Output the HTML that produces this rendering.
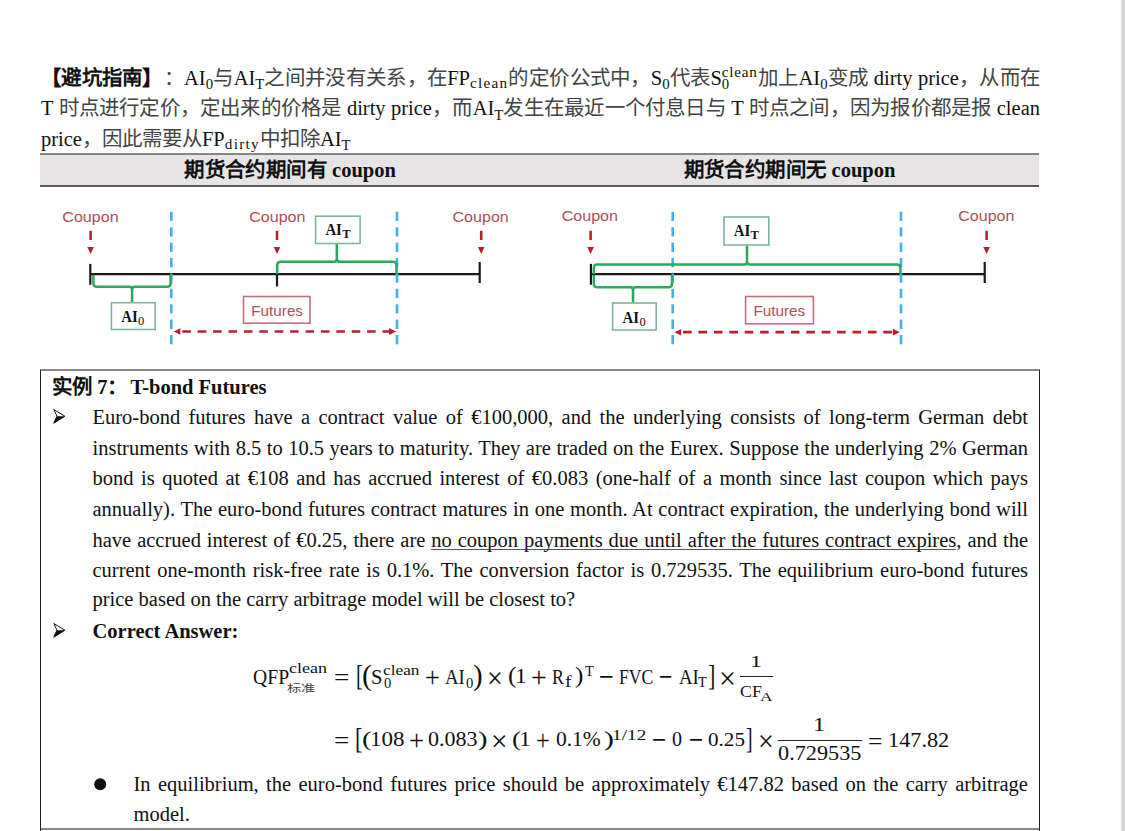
<!DOCTYPE html>
<html lang="zh-CN"><head>
<meta charset="utf-8">
<style>
html,body{margin:0;padding:0;background:#fff;}
body{width:1125px;height:831px;overflow:hidden;position:relative;font-family:"Liberation Serif",serif;color:#111;}
.ln{position:absolute;white-space:nowrap;line-height:30px;height:30px;}
.j{text-align:justify;text-align-last:justify;white-space:nowrap;}
.b{font-weight:bold;}
.hs{font-family:"Liberation Sans",sans-serif;font-weight:bold;}
.cj{color:#444;font-family:"Liberation Sans",sans-serif;}
.sb{font-size:74%;letter-spacing:.085em;position:relative;top:.22em;}
.sd{font-size:72%;position:relative;top:.3em;}
.sp{font-size:74%;letter-spacing:.05em;position:relative;top:-.53em;}
.rel{position:relative;}
.abs0{position:absolute;left:0;top:.24em;font-size:82%;}
.t{position:absolute;white-space:nowrap;line-height:1;transform-origin:0 0;}
#edge{position:absolute;left:1120px;top:0;width:5px;height:831px;background:linear-gradient(to right,#fff 0,#ececec 25%,#d3d3d3 55%,#cfcfcf 100%);}
#hdr{position:absolute;left:40px;top:153px;width:999px;height:29.5px;background:#e6e4e5;border-top:2px solid #858585;border-bottom:2px solid #5a5a5a;}
#box{position:absolute;left:40px;top:369px;width:998px;height:457px;border-left:1px solid #222;border-right:1px solid #222;border-top:2px solid #8a8a8a;border-bottom:2px solid #8a8a8a;}
.cp{font-family:"Liberation Sans",sans-serif;font-size:15.5px;fill:#ad3d4a;}
u{text-decoration-thickness:1.3px;text-underline-offset:1.5px;text-decoration-color:#555;text-decoration-skip-ink:none;}
.fzo>span{position:absolute;white-space:nowrap;line-height:1;}
</style>
</head>
<body>
<div id="edge"></div>
<div class="fzo"><span style="left: 41px; top: 67.98px; font-size: 20.5px; font-family: &quot;Liberation Sans&quot;, sans-serif; font-weight: 700; color: rgb(17, 17, 17);">【</span><span style="left: 61.28px; top: 67.98px; font-size: 20.5px; font-family: &quot;Liberation Sans&quot;, sans-serif; font-weight: 700; color: rgb(17, 17, 17);">避</span><span style="left: 81.58px; top: 67.98px; font-size: 20.5px; font-family: &quot;Liberation Sans&quot;, sans-serif; font-weight: 700; color: rgb(17, 17, 17);">坑</span><span style="left: 101.86px; top: 67.98px; font-size: 20.5px; font-family: &quot;Liberation Sans&quot;, sans-serif; font-weight: 700; color: rgb(17, 17, 17);">指</span><span style="left: 122.16px; top: 67.98px; font-size: 20.5px; font-family: &quot;Liberation Sans&quot;, sans-serif; font-weight: 700; color: rgb(17, 17, 17);">南</span><span style="left: 142.44px; top: 67.98px; font-size: 20.5px; font-family: &quot;Liberation Sans&quot;, sans-serif; font-weight: 700; color: rgb(17, 17, 17);">】</span><span style="left: 163.75px; top: 67.98px; font-size: 20.5px; font-family: &quot;Liberation Sans&quot;, sans-serif; font-weight: 400; color: rgb(68, 68, 68);">：</span><span style="left: 184.05px; top: 67.97px; font-size: 20.5px; font-family: &quot;Liberation Serif&quot;, serif; font-weight: 400; color: rgb(17, 17, 17);">AI</span><span style="left: 205.69px; top: 77.41px; font-size: 14.76px; font-family: &quot;Liberation Serif&quot;, serif; font-weight: 400; color: rgb(17, 17, 17);">0</span><span style="left: 213.06px; top: 67.98px; font-size: 20.5px; font-family: &quot;Liberation Sans&quot;, sans-serif; font-weight: 400; color: rgb(68, 68, 68);">与</span><span style="left: 233.66px; top: 67.97px; font-size: 20.5px; font-family: &quot;Liberation Serif&quot;, serif; font-weight: 400; color: rgb(17, 17, 17);">AI</span><span style="left: 255.3px; top: 77.41px; font-size: 14.76px; font-family: &quot;Liberation Serif&quot;, serif; font-weight: 400; color: rgb(17, 17, 17);">T</span><span style="left: 264.31px; top: 67.98px; font-size: 20.5px; font-family: &quot;Liberation Sans&quot;, sans-serif; font-weight: 400; color: rgb(68, 68, 68);">之</span><span style="left: 284.89px; top: 67.98px; font-size: 20.5px; font-family: &quot;Liberation Sans&quot;, sans-serif; font-weight: 400; color: rgb(68, 68, 68);">间</span><span style="left: 305.17px; top: 67.98px; font-size: 20.5px; font-family: &quot;Liberation Sans&quot;, sans-serif; font-weight: 400; color: rgb(68, 68, 68);">并</span><span style="left: 325.47px; top: 67.98px; font-size: 20.5px; font-family: &quot;Liberation Sans&quot;, sans-serif; font-weight: 400; color: rgb(68, 68, 68);">没</span><span style="left: 345.75px; top: 67.98px; font-size: 20.5px; font-family: &quot;Liberation Sans&quot;, sans-serif; font-weight: 400; color: rgb(68, 68, 68);">有</span><span style="left: 366.05px; top: 67.98px; font-size: 20.5px; font-family: &quot;Liberation Sans&quot;, sans-serif; font-weight: 400; color: rgb(68, 68, 68);">关</span><span style="left: 386.33px; top: 67.98px; font-size: 20.5px; font-family: &quot;Liberation Sans&quot;, sans-serif; font-weight: 400; color: rgb(68, 68, 68);">系</span><span style="left: 406.63px; top: 67.98px; font-size: 20.5px; font-family: &quot;Liberation Sans&quot;, sans-serif; font-weight: 400; color: rgb(68, 68, 68);">，</span><span style="left: 426.91px; top: 67.98px; font-size: 20.5px; font-family: &quot;Liberation Sans&quot;, sans-serif; font-weight: 400; color: rgb(68, 68, 68);">在</span><span style="left: 447.22px; top: 67.97px; font-size: 20.5px; font-family: &quot;Liberation Serif&quot;, serif; font-weight: 400; color: rgb(17, 17, 17);">FP</span><span style="left: 470.03px; top: 75.31px; font-size: 15.17px; font-family: &quot;Liberation Serif&quot;, serif; font-weight: 400; color: rgb(17, 17, 17); letter-spacing: 1.28945px;">clean</span><span style="left: 508.45px; top: 67.98px; font-size: 20.5px; font-family: &quot;Liberation Sans&quot;, sans-serif; font-weight: 400; color: rgb(68, 68, 68);">的</span><span style="left: 529.03px; top: 67.98px; font-size: 20.5px; font-family: &quot;Liberation Sans&quot;, sans-serif; font-weight: 400; color: rgb(68, 68, 68);">定</span><span style="left: 549.31px; top: 67.98px; font-size: 20.5px; font-family: &quot;Liberation Sans&quot;, sans-serif; font-weight: 400; color: rgb(68, 68, 68);">价</span><span style="left: 569.61px; top: 67.98px; font-size: 20.5px; font-family: &quot;Liberation Sans&quot;, sans-serif; font-weight: 400; color: rgb(68, 68, 68);">公</span><span style="left: 589.89px; top: 67.98px; font-size: 20.5px; font-family: &quot;Liberation Sans&quot;, sans-serif; font-weight: 400; color: rgb(68, 68, 68);">式</span><span style="left: 610.19px; top: 67.98px; font-size: 20.5px; font-family: &quot;Liberation Sans&quot;, sans-serif; font-weight: 400; color: rgb(68, 68, 68);">中</span><span style="left: 630.47px; top: 67.98px; font-size: 20.5px; font-family: &quot;Liberation Sans&quot;, sans-serif; font-weight: 400; color: rgb(68, 68, 68);">，</span><span style="left: 650.78px; top: 67.97px; font-size: 20.5px; font-family: &quot;Liberation Serif&quot;, serif; font-weight: 400; color: rgb(17, 17, 17);">S</span><span style="left: 662.19px; top: 77.41px; font-size: 14.76px; font-family: &quot;Liberation Serif&quot;, serif; font-weight: 400; color: rgb(17, 17, 17);">0</span><span style="left: 669.56px; top: 67.98px; font-size: 20.5px; font-family: &quot;Liberation Sans&quot;, sans-serif; font-weight: 400; color: rgb(68, 68, 68);">代</span><span style="left: 690.14px; top: 67.98px; font-size: 20.5px; font-family: &quot;Liberation Sans&quot;, sans-serif; font-weight: 400; color: rgb(68, 68, 68);">表</span><span style="left: 710.44px; top: 67.97px; font-size: 20.5px; font-family: &quot;Liberation Serif&quot;, serif; font-weight: 400; color: rgb(17, 17, 17);">S</span><span style="left: 721.84px; top: 77.41px; font-size: 14.76px; font-family: &quot;Liberation Serif&quot;, serif; font-weight: 400; color: rgb(17, 17, 17);">0</span><span style="left: 721.84px; top: 63.95px; font-size: 15.17px; font-family: &quot;Liberation Serif&quot;, serif; font-weight: 400; color: rgb(17, 17, 17); letter-spacing: 0.7585px;">clean</span><span style="left: 757.61px; top: 67.98px; font-size: 20.5px; font-family: &quot;Liberation Sans&quot;, sans-serif; font-weight: 400; color: rgb(68, 68, 68);">加</span><span style="left: 778.19px; top: 67.98px; font-size: 20.5px; font-family: &quot;Liberation Sans&quot;, sans-serif; font-weight: 400; color: rgb(68, 68, 68);">上</span><span style="left: 798.48px; top: 67.97px; font-size: 20.5px; font-family: &quot;Liberation Serif&quot;, serif; font-weight: 400; color: rgb(17, 17, 17);">AI</span><span style="left: 820.13px; top: 77.41px; font-size: 14.76px; font-family: &quot;Liberation Serif&quot;, serif; font-weight: 400; color: rgb(17, 17, 17);">0</span><span style="left: 827.5px; top: 67.98px; font-size: 20.5px; font-family: &quot;Liberation Sans&quot;, sans-serif; font-weight: 400; color: rgb(68, 68, 68);">变</span><span style="left: 848.08px; top: 67.98px; font-size: 20.5px; font-family: &quot;Liberation Sans&quot;, sans-serif; font-weight: 400; color: rgb(68, 68, 68);">成</span><span style="left: 873.78px; top: 67.97px; font-size: 20.5px; font-family: &quot;Liberation Serif&quot;, serif; font-weight: 400; color: rgb(17, 17, 17);">dirty</span><span style="left: 917.92px; top: 67.97px; font-size: 20.5px; font-family: &quot;Liberation Serif&quot;, serif; font-weight: 400; color: rgb(17, 17, 17);">price</span><span style="left: 958.91px; top: 67.98px; font-size: 20.5px; font-family: &quot;Liberation Sans&quot;, sans-serif; font-weight: 400; color: rgb(68, 68, 68);">，</span><span style="left: 979.48px; top: 67.98px; font-size: 20.5px; font-family: &quot;Liberation Sans&quot;, sans-serif; font-weight: 400; color: rgb(68, 68, 68);">从</span><span style="left: 999.77px; top: 67.98px; font-size: 20.5px; font-family: &quot;Liberation Sans&quot;, sans-serif; font-weight: 400; color: rgb(68, 68, 68);">而</span><span style="left: 1020.06px; top: 67.98px; font-size: 20.5px; font-family: &quot;Liberation Sans&quot;, sans-serif; font-weight: 400; color: rgb(68, 68, 68);">在</span></div>
<div class="fzo"><span style="left: 41px; top: 98.47px; font-size: 20.5px; font-family: &quot;Liberation Serif&quot;, serif; font-weight: 400; color: rgb(17, 17, 17);">T</span><span style="left: 58.5px; top: 98.48px; font-size: 20.5px; font-family: &quot;Liberation Sans&quot;, sans-serif; font-weight: 400; color: rgb(68, 68, 68);">时</span><span style="left: 78.72px; top: 98.48px; font-size: 20.5px; font-family: &quot;Liberation Sans&quot;, sans-serif; font-weight: 400; color: rgb(68, 68, 68);">点</span><span style="left: 98.94px; top: 98.48px; font-size: 20.5px; font-family: &quot;Liberation Sans&quot;, sans-serif; font-weight: 400; color: rgb(68, 68, 68);">进</span><span style="left: 119.16px; top: 98.48px; font-size: 20.5px; font-family: &quot;Liberation Sans&quot;, sans-serif; font-weight: 400; color: rgb(68, 68, 68);">行</span><span style="left: 139.38px; top: 98.48px; font-size: 20.5px; font-family: &quot;Liberation Sans&quot;, sans-serif; font-weight: 400; color: rgb(68, 68, 68);">定</span><span style="left: 159.59px; top: 98.48px; font-size: 20.5px; font-family: &quot;Liberation Sans&quot;, sans-serif; font-weight: 400; color: rgb(68, 68, 68);">价</span><span style="left: 179.81px; top: 98.48px; font-size: 20.5px; font-family: &quot;Liberation Sans&quot;, sans-serif; font-weight: 400; color: rgb(68, 68, 68);">，</span><span style="left: 200.03px; top: 98.48px; font-size: 20.5px; font-family: &quot;Liberation Sans&quot;, sans-serif; font-weight: 400; color: rgb(68, 68, 68);">定</span><span style="left: 220.25px; top: 98.48px; font-size: 20.5px; font-family: &quot;Liberation Sans&quot;, sans-serif; font-weight: 400; color: rgb(68, 68, 68);">出</span><span style="left: 240.47px; top: 98.48px; font-size: 20.5px; font-family: &quot;Liberation Sans&quot;, sans-serif; font-weight: 400; color: rgb(68, 68, 68);">来</span><span style="left: 260.69px; top: 98.48px; font-size: 20.5px; font-family: &quot;Liberation Sans&quot;, sans-serif; font-weight: 400; color: rgb(68, 68, 68);">的</span><span style="left: 280.91px; top: 98.48px; font-size: 20.5px; font-family: &quot;Liberation Sans&quot;, sans-serif; font-weight: 400; color: rgb(68, 68, 68);">价</span><span style="left: 301.13px; top: 98.48px; font-size: 20.5px; font-family: &quot;Liberation Sans&quot;, sans-serif; font-weight: 400; color: rgb(68, 68, 68);">格</span><span style="left: 321.34px; top: 98.48px; font-size: 20.5px; font-family: &quot;Liberation Sans&quot;, sans-serif; font-weight: 400; color: rgb(68, 68, 68);">是</span><span style="left: 346.92px; top: 98.47px; font-size: 20.5px; font-family: &quot;Liberation Serif&quot;, serif; font-weight: 400; color: rgb(17, 17, 17);">dirty</span><span style="left: 390.98px; top: 98.47px; font-size: 20.5px; font-family: &quot;Liberation Serif&quot;, serif; font-weight: 400; color: rgb(17, 17, 17);">price</span><span style="left: 431.97px; top: 98.48px; font-size: 20.5px; font-family: &quot;Liberation Sans&quot;, sans-serif; font-weight: 400; color: rgb(68, 68, 68);">，</span><span style="left: 452.41px; top: 98.48px; font-size: 20.5px; font-family: &quot;Liberation Sans&quot;, sans-serif; font-weight: 400; color: rgb(68, 68, 68);">而</span><span style="left: 472.64px; top: 98.47px; font-size: 20.5px; font-family: &quot;Liberation Serif&quot;, serif; font-weight: 400; color: rgb(17, 17, 17);">AI</span><span style="left: 494.28px; top: 107.91px; font-size: 14.76px; font-family: &quot;Liberation Serif&quot;, serif; font-weight: 400; color: rgb(17, 17, 17);">T</span><span style="left: 503.3px; top: 98.48px; font-size: 20.5px; font-family: &quot;Liberation Sans&quot;, sans-serif; font-weight: 400; color: rgb(68, 68, 68);">发</span><span style="left: 523.73px; top: 98.48px; font-size: 20.5px; font-family: &quot;Liberation Sans&quot;, sans-serif; font-weight: 400; color: rgb(68, 68, 68);">生</span><span style="left: 543.95px; top: 98.48px; font-size: 20.5px; font-family: &quot;Liberation Sans&quot;, sans-serif; font-weight: 400; color: rgb(68, 68, 68);">在</span><span style="left: 564.17px; top: 98.48px; font-size: 20.5px; font-family: &quot;Liberation Sans&quot;, sans-serif; font-weight: 400; color: rgb(68, 68, 68);">最</span><span style="left: 584.39px; top: 98.48px; font-size: 20.5px; font-family: &quot;Liberation Sans&quot;, sans-serif; font-weight: 400; color: rgb(68, 68, 68);">近</span><span style="left: 604.61px; top: 98.48px; font-size: 20.5px; font-family: &quot;Liberation Sans&quot;, sans-serif; font-weight: 400; color: rgb(68, 68, 68);">一</span><span style="left: 624.83px; top: 98.48px; font-size: 20.5px; font-family: &quot;Liberation Sans&quot;, sans-serif; font-weight: 400; color: rgb(68, 68, 68);">个</span><span style="left: 645.05px; top: 98.48px; font-size: 20.5px; font-family: &quot;Liberation Sans&quot;, sans-serif; font-weight: 400; color: rgb(68, 68, 68);">付</span><span style="left: 665.27px; top: 98.48px; font-size: 20.5px; font-family: &quot;Liberation Sans&quot;, sans-serif; font-weight: 400; color: rgb(68, 68, 68);">息</span><span style="left: 685.48px; top: 98.48px; font-size: 20.5px; font-family: &quot;Liberation Sans&quot;, sans-serif; font-weight: 400; color: rgb(68, 68, 68);">日</span><span style="left: 705.7px; top: 98.48px; font-size: 20.5px; font-family: &quot;Liberation Sans&quot;, sans-serif; font-weight: 400; color: rgb(68, 68, 68);">与</span><span style="left: 731.28px; top: 98.47px; font-size: 20.5px; font-family: &quot;Liberation Serif&quot;, serif; font-weight: 400; color: rgb(17, 17, 17);">T</span><span style="left: 748.78px; top: 98.48px; font-size: 20.5px; font-family: &quot;Liberation Sans&quot;, sans-serif; font-weight: 400; color: rgb(68, 68, 68);">时</span><span style="left: 769px; top: 98.48px; font-size: 20.5px; font-family: &quot;Liberation Sans&quot;, sans-serif; font-weight: 400; color: rgb(68, 68, 68);">点</span><span style="left: 789.22px; top: 98.48px; font-size: 20.5px; font-family: &quot;Liberation Sans&quot;, sans-serif; font-weight: 400; color: rgb(68, 68, 68);">之</span><span style="left: 809.44px; top: 98.48px; font-size: 20.5px; font-family: &quot;Liberation Sans&quot;, sans-serif; font-weight: 400; color: rgb(68, 68, 68);">间</span><span style="left: 829.66px; top: 98.48px; font-size: 20.5px; font-family: &quot;Liberation Sans&quot;, sans-serif; font-weight: 400; color: rgb(68, 68, 68);">，</span><span style="left: 849.88px; top: 98.48px; font-size: 20.5px; font-family: &quot;Liberation Sans&quot;, sans-serif; font-weight: 400; color: rgb(68, 68, 68);">因</span><span style="left: 870.09px; top: 98.48px; font-size: 20.5px; font-family: &quot;Liberation Sans&quot;, sans-serif; font-weight: 400; color: rgb(68, 68, 68);">为</span><span style="left: 890.31px; top: 98.48px; font-size: 20.5px; font-family: &quot;Liberation Sans&quot;, sans-serif; font-weight: 400; color: rgb(68, 68, 68);">报</span><span style="left: 910.53px; top: 98.48px; font-size: 20.5px; font-family: &quot;Liberation Sans&quot;, sans-serif; font-weight: 400; color: rgb(68, 68, 68);">价</span><span style="left: 930.75px; top: 98.48px; font-size: 20.5px; font-family: &quot;Liberation Sans&quot;, sans-serif; font-weight: 400; color: rgb(68, 68, 68);">都</span><span style="left: 950.97px; top: 98.48px; font-size: 20.5px; font-family: &quot;Liberation Sans&quot;, sans-serif; font-weight: 400; color: rgb(68, 68, 68);">是</span><span style="left: 971.19px; top: 98.48px; font-size: 20.5px; font-family: &quot;Liberation Sans&quot;, sans-serif; font-weight: 400; color: rgb(68, 68, 68);">报</span><span style="left: 996.77px; top: 98.47px; font-size: 20.5px; font-family: &quot;Liberation Serif&quot;, serif; font-weight: 400; color: rgb(17, 17, 17);">clean</span></div>
<div class="fzo"><span style="left: 41px; top: 128.68px; font-size: 20.5px; font-family: &quot;Liberation Serif&quot;, serif; font-weight: 400; color: rgb(17, 17, 17);">price</span><span style="left: 81.98px; top: 128.68px; font-size: 20.5px; font-family: &quot;Liberation Sans&quot;, sans-serif; font-weight: 400; color: rgb(68, 68, 68);">，</span><span style="left: 101.98px; top: 128.68px; font-size: 20.5px; font-family: &quot;Liberation Sans&quot;, sans-serif; font-weight: 400; color: rgb(68, 68, 68);">因</span><span style="left: 121.98px; top: 128.68px; font-size: 20.5px; font-family: &quot;Liberation Sans&quot;, sans-serif; font-weight: 400; color: rgb(68, 68, 68);">此</span><span style="left: 141.98px; top: 128.68px; font-size: 20.5px; font-family: &quot;Liberation Sans&quot;, sans-serif; font-weight: 400; color: rgb(68, 68, 68);">需</span><span style="left: 161.98px; top: 128.68px; font-size: 20.5px; font-family: &quot;Liberation Sans&quot;, sans-serif; font-weight: 400; color: rgb(68, 68, 68);">要</span><span style="left: 181.98px; top: 128.68px; font-size: 20.5px; font-family: &quot;Liberation Sans&quot;, sans-serif; font-weight: 400; color: rgb(68, 68, 68);">从</span><span style="left: 201.98px; top: 128.68px; font-size: 20.5px; font-family: &quot;Liberation Serif&quot;, serif; font-weight: 400; color: rgb(17, 17, 17);">FP</span><span style="left: 224.8px; top: 136px; font-size: 15.17px; font-family: &quot;Liberation Serif&quot;, serif; font-weight: 400; color: rgb(17, 17, 17); letter-spacing: 1.28945px;">dirty</span><span style="left: 259.88px; top: 128.68px; font-size: 20.5px; font-family: &quot;Liberation Sans&quot;, sans-serif; font-weight: 400; color: rgb(68, 68, 68);">中</span><span style="left: 279.88px; top: 128.68px; font-size: 20.5px; font-family: &quot;Liberation Sans&quot;, sans-serif; font-weight: 400; color: rgb(68, 68, 68);">扣</span><span style="left: 299.88px; top: 128.68px; font-size: 20.5px; font-family: &quot;Liberation Sans&quot;, sans-serif; font-weight: 400; color: rgb(68, 68, 68);">除</span><span style="left: 319.88px; top: 128.68px; font-size: 20.5px; font-family: &quot;Liberation Serif&quot;, serif; font-weight: 400; color: rgb(17, 17, 17);">AI</span><span style="left: 341.52px; top: 138.1px; font-size: 14.76px; font-family: &quot;Liberation Serif&quot;, serif; font-weight: 400; color: rgb(17, 17, 17);">T</span></div>
<div id="hdr"></div>
<div class="fzo"><span style="left: 184.13px; top: 160.27px; font-size: 20.5px; font-family: &quot;Liberation Sans&quot;, sans-serif; font-weight: 700; color: rgb(17, 17, 17); letter-spacing: 0.4px;">期</span><span style="left: 204.52px; top: 160.27px; font-size: 20.5px; font-family: &quot;Liberation Sans&quot;, sans-serif; font-weight: 700; color: rgb(17, 17, 17); letter-spacing: 0.4px;">货</span><span style="left: 224.92px; top: 160.27px; font-size: 20.5px; font-family: &quot;Liberation Sans&quot;, sans-serif; font-weight: 700; color: rgb(17, 17, 17); letter-spacing: 0.4px;">合</span><span style="left: 245.31px; top: 160.27px; font-size: 20.5px; font-family: &quot;Liberation Sans&quot;, sans-serif; font-weight: 700; color: rgb(17, 17, 17); letter-spacing: 0.4px;">约</span><span style="left: 265.72px; top: 160.27px; font-size: 20.5px; font-family: &quot;Liberation Sans&quot;, sans-serif; font-weight: 700; color: rgb(17, 17, 17); letter-spacing: 0.4px;">期</span><span style="left: 286.11px; top: 160.27px; font-size: 20.5px; font-family: &quot;Liberation Sans&quot;, sans-serif; font-weight: 700; color: rgb(17, 17, 17); letter-spacing: 0.4px;">间</span><span style="left: 306.52px; top: 160.27px; font-size: 20.5px; font-family: &quot;Liberation Sans&quot;, sans-serif; font-weight: 700; color: rgb(17, 17, 17); letter-spacing: 0.4px;">有</span><span style="left: 332.06px; top: 160.27px; font-size: 20.5px; font-family: &quot;Liberation Serif&quot;, serif; font-weight: 700; color: rgb(17, 17, 17);">coupon</span></div>
<div class="fzo"><span style="left: 683.63px; top: 160.27px; font-size: 20.5px; font-family: &quot;Liberation Sans&quot;, sans-serif; font-weight: 700; color: rgb(17, 17, 17); letter-spacing: 0.4px;">期</span><span style="left: 704.02px; top: 160.27px; font-size: 20.5px; font-family: &quot;Liberation Sans&quot;, sans-serif; font-weight: 700; color: rgb(17, 17, 17); letter-spacing: 0.4px;">货</span><span style="left: 724.42px; top: 160.27px; font-size: 20.5px; font-family: &quot;Liberation Sans&quot;, sans-serif; font-weight: 700; color: rgb(17, 17, 17); letter-spacing: 0.4px;">合</span><span style="left: 744.81px; top: 160.27px; font-size: 20.5px; font-family: &quot;Liberation Sans&quot;, sans-serif; font-weight: 700; color: rgb(17, 17, 17); letter-spacing: 0.4px;">约</span><span style="left: 765.22px; top: 160.27px; font-size: 20.5px; font-family: &quot;Liberation Sans&quot;, sans-serif; font-weight: 700; color: rgb(17, 17, 17); letter-spacing: 0.4px;">期</span><span style="left: 785.61px; top: 160.27px; font-size: 20.5px; font-family: &quot;Liberation Sans&quot;, sans-serif; font-weight: 700; color: rgb(17, 17, 17); letter-spacing: 0.4px;">间</span><span style="left: 806.02px; top: 160.27px; font-size: 20.5px; font-family: &quot;Liberation Sans&quot;, sans-serif; font-weight: 700; color: rgb(17, 17, 17); letter-spacing: 0.4px;">无</span><span style="left: 831.56px; top: 160.27px; font-size: 20.5px; font-family: &quot;Liberation Serif&quot;, serif; font-weight: 700; color: rgb(17, 17, 17);">coupon</span></div>
<svg style="position:absolute;left:0;top:0" width="1125" height="831" viewBox="0 0 1125 831"><line x1="90" y1="274.2" x2="480" y2="274.2" stroke="#1a1a1a" stroke-width="2.2"></line><line x1="90.3" y1="263.9" x2="90.3" y2="284.8" stroke="#1a1a1a" stroke-width="2.2"></line><line x1="479.7" y1="262" x2="479.7" y2="283" stroke="#1a1a1a" stroke-width="2.2"></line><line x1="277" y1="274" x2="277" y2="286.5" stroke="#1a1a1a" stroke-width="2.2"></line><line x1="171.3" y1="211.8" x2="171.3" y2="344.3" stroke="#42b3e2" stroke-width="2.6" stroke-dasharray="9.3 6.1"></line><line x1="397" y1="211.8" x2="397" y2="344.3" stroke="#42b3e2" stroke-width="2.6" stroke-dasharray="9.3 6.1"></line><path d="M93.4,275 L93.4,283.3 Q93.4,286.8 96.9,286.8 L129.6,286.8 Q132.1,286.8 132.1,289.8 L132.1,304 M132.1,289.8 Q132.1,286.8 134.6,286.8 L167.1,286.8 Q170.6,286.8 170.6,283.3 L170.6,275" fill="none" stroke="#2aa85e" stroke-width="2.5" stroke-linejoin="round"></path><path d="M277.2,274 L277.2,265.2 Q277.2,261.7 280.7,261.7 L334.3,261.7 Q336.8,261.7 336.8,258.7 L336.8,244 M336.8,258.7 Q336.8,261.7 339.3,261.7 L393.0,261.7 Q396.5,261.7 396.5,265.2 L396.5,274" fill="none" stroke="#2aa85e" stroke-width="2.5" stroke-linejoin="round"></path><text x="62.3" y="222" font-family="Liberation Sans" font-size="15.2" fill="#b04e5a" textLength="56.3" lengthAdjust="spacingAndGlyphs">Coupon</text><line x1="90.6" y1="230.8" x2="90.6" y2="240" stroke="#bb1f2b" stroke-width="2.6"></line><path d="M87.3,247 L93.89999999999999,247 L90.6,254 z" fill="#bb1f2b"></path><text x="249.2" y="222" font-family="Liberation Sans" font-size="15.2" fill="#b04e5a" textLength="56.3" lengthAdjust="spacingAndGlyphs">Coupon</text><line x1="277" y1="230.8" x2="277" y2="240" stroke="#bb1f2b" stroke-width="2.6"></line><path d="M273.7,247 L280.3,247 L277,254 z" fill="#bb1f2b"></path><text x="452.5" y="222" font-family="Liberation Sans" font-size="15.2" fill="#b04e5a" textLength="56.3" lengthAdjust="spacingAndGlyphs">Coupon</text><line x1="481.2" y1="230.8" x2="481.2" y2="240" stroke="#bb1f2b" stroke-width="2.6"></line><path d="M477.9,247 L484.5,247 L481.2,254 z" fill="#bb1f2b"></path><rect x="111.4" y="302.7" width="43.8" height="26.8" fill="#fff" stroke="#7fb59b" stroke-width="1.6"></rect><text x="121.2" y="322" font-family="Liberation Serif" font-weight="bold" font-size="17" fill="#111" textLength="16.5" lengthAdjust="spacingAndGlyphs">AI</text><text x="138.0" y="325" font-family="Liberation Serif" font-size="12.5" fill="#111">0</text><rect x="315.6" y="216.2" width="44.5" height="27.3" fill="#fff" stroke="#7fb59b" stroke-width="1.6"></rect><text x="325.4" y="235.4" font-family="Liberation Serif" font-weight="bold" font-size="17" fill="#111" textLength="16.5" lengthAdjust="spacingAndGlyphs">AI</text><text x="342.2" y="238.4" font-family="Liberation Serif" font-size="12.5" fill="#111" font-weight="bold">T</text><rect x="243.5" y="296.5" width="66.5" height="26.7" fill="#fff" stroke="#c4707a" stroke-width="1.6"></rect><text x="251.3" y="315.5" font-family="Liberation Sans" font-size="15" fill="#b04e5a" textLength="51.7" lengthAdjust="spacingAndGlyphs">Futures</text><line x1="182.29999999999998" y1="331.5" x2="390" y2="331.5" stroke="#bb1f2b" stroke-width="2.7" stroke-dasharray="8.6 6.8"></line><path d="M173.7,331.5 L180.29999999999998,328.3 L180.29999999999998,334.7 z" fill="#bb1f2b"></path><path d="M396,331.5 L389,328.1 L389,334.9 z" fill="#bb1f2b"></path><line x1="590.6" y1="274.2" x2="985" y2="274.2" stroke="#1a1a1a" stroke-width="2.2"></line><line x1="590.9" y1="263.9" x2="590.9" y2="284.8" stroke="#1a1a1a" stroke-width="2.2"></line><line x1="984.7" y1="262" x2="984.7" y2="283" stroke="#1a1a1a" stroke-width="2.2"></line><line x1="672.7" y1="211.8" x2="672.7" y2="344.3" stroke="#42b3e2" stroke-width="2.6" stroke-dasharray="9.3 6.1"></line><line x1="901" y1="211.8" x2="901" y2="344.3" stroke="#42b3e2" stroke-width="2.6" stroke-dasharray="9.3 6.1"></line><path d="M593.8,275 L593.8,283.7 Q593.8,287.2 597.3,287.2 L630.5,287.2 Q633,287.2 633,290.2 L633,304 M633,290.2 Q633,287.2 635.5,287.2 L668.5,287.2 Q672,287.2 672,283.7 L672,275" fill="none" stroke="#2aa85e" stroke-width="2.5" stroke-linejoin="round"></path><path d="M593.8,274 L593.8,268.0 Q593.8,264.5 597.3,264.5 L744.5,264.5 Q747,264.5 747,261.5 L747,245.5 M747,261.5 Q747,264.5 749.5,264.5 L896.9,264.5 Q900.4,264.5 900.4,268.0 L900.4,274" fill="none" stroke="#2aa85e" stroke-width="2.5" stroke-linejoin="round"></path><text x="561.7" y="221.4" font-family="Liberation Sans" font-size="15.2" fill="#b04e5a" textLength="56.3" lengthAdjust="spacingAndGlyphs">Coupon</text><line x1="590.6" y1="230.8" x2="590.6" y2="240" stroke="#bb1f2b" stroke-width="2.6"></line><path d="M587.3000000000001,247 L593.9,247 L590.6,254 z" fill="#bb1f2b"></path><text x="958.2" y="221.4" font-family="Liberation Sans" font-size="15.2" fill="#b04e5a" textLength="56.3" lengthAdjust="spacingAndGlyphs">Coupon</text><line x1="986.6" y1="230.8" x2="986.6" y2="240" stroke="#bb1f2b" stroke-width="2.6"></line><path d="M983.3000000000001,247 L989.9,247 L986.6,254 z" fill="#bb1f2b"></path><rect x="612.6" y="303" width="43.6" height="27" fill="#fff" stroke="#7fb59b" stroke-width="1.6"></rect><text x="622.6" y="322.5" font-family="Liberation Serif" font-weight="bold" font-size="17" fill="#111" textLength="16.5" lengthAdjust="spacingAndGlyphs">AI</text><text x="639.4" y="325.5" font-family="Liberation Serif" font-size="12.5" fill="#111">0</text><rect x="724" y="217" width="44.8" height="28" fill="#fff" stroke="#7fb59b" stroke-width="1.6"></rect><text x="733.8" y="236.2" font-family="Liberation Serif" font-weight="bold" font-size="17" fill="#111" textLength="16.5" lengthAdjust="spacingAndGlyphs">AI</text><text x="750.5999999999999" y="239.2" font-family="Liberation Serif" font-size="12.5" fill="#111" font-weight="bold">T</text><rect x="745.6" y="296.5" width="67.8" height="27.3" fill="#fff" stroke="#c4707a" stroke-width="1.6"></rect><text x="753.4" y="315.5" font-family="Liberation Sans" font-size="15" fill="#b04e5a" textLength="51.7" lengthAdjust="spacingAndGlyphs">Futures</text><line x1="683.1" y1="332.2" x2="893.8" y2="332.2" stroke="#bb1f2b" stroke-width="2.7" stroke-dasharray="8.6 6.8"></line><path d="M674.5,332.2 L681.1,329.0 L681.1,335.4 z" fill="#bb1f2b"></path><path d="M899.8,332.2 L892.8,328.8 L892.8,335.59999999999997 z" fill="#bb1f2b"></path></svg>
<div id="box"></div>
<div style="position:absolute;left:40px;top:828px;width:1px;height:3px;background:#222"></div><div style="position:absolute;left:1039px;top:828px;width:1px;height:3px;background:#222"></div>
<div class="fzo"><span style="left: 52px; top: 376.68px; font-size: 20.5px; font-family: &quot;Liberation Sans&quot;, sans-serif; font-weight: 700; color: rgb(17, 17, 17);">实</span><span style="left: 72px; top: 376.68px; font-size: 20.5px; font-family: &quot;Liberation Sans&quot;, sans-serif; font-weight: 700; color: rgb(17, 17, 17);">例</span><span style="left: 97.13px; top: 376.68px; font-size: 20.5px; font-family: &quot;Liberation Serif&quot;, serif; font-weight: 700; color: rgb(17, 17, 17);">7</span><span style="left: 107.38px; top: 376.68px; font-size: 20.5px; font-family: &quot;Liberation Sans&quot;, sans-serif; font-weight: 700; color: rgb(17, 17, 17);">：</span><span style="left: 130.38px; top: 376.68px; font-size: 20.5px; font-family: &quot;Liberation Serif&quot;, serif; font-weight: 700; color: rgb(17, 17, 17);">T-bond</span><span style="left: 198.56px; top: 376.68px; font-size: 20.5px; font-family: &quot;Liberation Serif&quot;, serif; font-weight: 700; color: rgb(17, 17, 17);">Futures</span></div>
<div class="fzo"><span style="left: 92.5px; top: 406.77px; font-size: 20.5px; font-family: &quot;Liberation Serif&quot;, serif; font-weight: 400; color: rgb(17, 17, 17);">Euro-bond</span><span style="left: 188.56px; top: 406.77px; font-size: 20.5px; font-family: &quot;Liberation Serif&quot;, serif; font-weight: 400; color: rgb(17, 17, 17);">futures</span><span style="left: 253.89px; top: 406.77px; font-size: 20.5px; font-family: &quot;Liberation Serif&quot;, serif; font-weight: 400; color: rgb(17, 17, 17);">have</span><span style="left: 300.98px; top: 406.77px; font-size: 20.5px; font-family: &quot;Liberation Serif&quot;, serif; font-weight: 400; color: rgb(17, 17, 17);">a</span><span style="left: 318.48px; top: 406.77px; font-size: 20.5px; font-family: &quot;Liberation Serif&quot;, serif; font-weight: 400; color: rgb(17, 17, 17);">contract</span><span style="left: 392.91px; top: 406.77px; font-size: 20.5px; font-family: &quot;Liberation Serif&quot;, serif; font-weight: 400; color: rgb(17, 17, 17);">value</span><span style="left: 445.7px; top: 406.77px; font-size: 20.5px; font-family: &quot;Liberation Serif&quot;, serif; font-weight: 400; color: rgb(17, 17, 17);">of</span><span style="left: 471.17px; top: 406.77px; font-size: 20.5px; font-family: &quot;Liberation Serif&quot;, serif; font-weight: 400; color: rgb(17, 17, 17);">€100,000,</span><span style="left: 561.58px; top: 406.77px; font-size: 20.5px; font-family: &quot;Liberation Serif&quot;, serif; font-weight: 400; color: rgb(17, 17, 17);">and</span><span style="left: 599.58px; top: 406.77px; font-size: 20.5px; font-family: &quot;Liberation Serif&quot;, serif; font-weight: 400; color: rgb(17, 17, 17);">the</span><span style="left: 633.02px; top: 406.77px; font-size: 20.5px; font-family: &quot;Liberation Serif&quot;, serif; font-weight: 400; color: rgb(17, 17, 17);">underlying</span><span style="left: 730.23px; top: 406.77px; font-size: 20.5px; font-family: &quot;Liberation Serif&quot;, serif; font-weight: 400; color: rgb(17, 17, 17);">consists</span><span style="left: 803.56px; top: 406.77px; font-size: 20.5px; font-family: &quot;Liberation Serif&quot;, serif; font-weight: 400; color: rgb(17, 17, 17);">of</span><span style="left: 829.03px; top: 406.77px; font-size: 20.5px; font-family: &quot;Liberation Serif&quot;, serif; font-weight: 400; color: rgb(17, 17, 17);">long-term</span><span style="left: 918.27px; top: 406.77px; font-size: 20.5px; font-family: &quot;Liberation Serif&quot;, serif; font-weight: 400; color: rgb(17, 17, 17);">German</span><span style="left: 992.7px; top: 406.77px; font-size: 20.5px; font-family: &quot;Liberation Serif&quot;, serif; font-weight: 400; color: rgb(17, 17, 17);">debt</span></div>
<div class="fzo"><span style="left: 92.5px; top: 437.77px; font-size: 20.5px; font-family: &quot;Liberation Serif&quot;, serif; font-weight: 400; color: rgb(17, 17, 17);">instruments</span><span style="left: 193.67px; top: 437.77px; font-size: 20.5px; font-family: &quot;Liberation Serif&quot;, serif; font-weight: 400; color: rgb(17, 17, 17);">with</span><span style="left: 235.63px; top: 437.77px; font-size: 20.5px; font-family: &quot;Liberation Serif&quot;, serif; font-weight: 400; color: rgb(17, 17, 17);">8.5</span><span style="left: 266.75px; top: 437.77px; font-size: 20.5px; font-family: &quot;Liberation Serif&quot;, serif; font-weight: 400; color: rgb(17, 17, 17);">to</span><span style="left: 288.22px; top: 437.77px; font-size: 20.5px; font-family: &quot;Liberation Serif&quot;, serif; font-weight: 400; color: rgb(17, 17, 17);">10.5</span><span style="left: 329.59px; top: 437.77px; font-size: 20.5px; font-family: &quot;Liberation Serif&quot;, serif; font-weight: 400; color: rgb(17, 17, 17);">years</span><span style="left: 378.36px; top: 437.77px; font-size: 20.5px; font-family: &quot;Liberation Serif&quot;, serif; font-weight: 400; color: rgb(17, 17, 17);">to</span><span style="left: 399.81px; top: 437.77px; font-size: 20.5px; font-family: &quot;Liberation Serif&quot;, serif; font-weight: 400; color: rgb(17, 17, 17);">maturity.</span><span style="left: 478.2px; top: 437.77px; font-size: 20.5px; font-family: &quot;Liberation Serif&quot;, serif; font-weight: 400; color: rgb(17, 17, 17);">They</span><span style="left: 525.84px; top: 437.77px; font-size: 20.5px; font-family: &quot;Liberation Serif&quot;, serif; font-weight: 400; color: rgb(17, 17, 17);">are</span><span style="left: 556.38px; top: 437.77px; font-size: 20.5px; font-family: &quot;Liberation Serif&quot;, serif; font-weight: 400; color: rgb(17, 17, 17);">traded</span><span style="left: 613.11px; top: 437.77px; font-size: 20.5px; font-family: &quot;Liberation Serif&quot;, serif; font-weight: 400; color: rgb(17, 17, 17);">on</span><span style="left: 639.11px; top: 437.77px; font-size: 20.5px; font-family: &quot;Liberation Serif&quot;, serif; font-weight: 400; color: rgb(17, 17, 17);">the</span><span style="left: 669.67px; top: 437.77px; font-size: 20.5px; font-family: &quot;Liberation Serif&quot;, serif; font-weight: 400; color: rgb(17, 17, 17);">Eurex.</span><span style="left: 729.25px; top: 437.77px; font-size: 20.5px; font-family: &quot;Liberation Serif&quot;, serif; font-weight: 400; color: rgb(17, 17, 17);">Suppose</span><span style="left: 804.23px; top: 437.77px; font-size: 20.5px; font-family: &quot;Liberation Serif&quot;, serif; font-weight: 400; color: rgb(17, 17, 17);">the</span><span style="left: 834.8px; top: 437.77px; font-size: 20.5px; font-family: &quot;Liberation Serif&quot;, serif; font-weight: 400; color: rgb(17, 17, 17);">underlying</span><span style="left: 929.13px; top: 437.77px; font-size: 20.5px; font-family: &quot;Liberation Serif&quot;, serif; font-weight: 400; color: rgb(17, 17, 17);">2%</span><span style="left: 961.97px; top: 437.77px; font-size: 20.5px; font-family: &quot;Liberation Serif&quot;, serif; font-weight: 400; color: rgb(17, 17, 17);">German</span></div>
<div class="fzo"><span style="left: 92.5px; top: 468.27px; font-size: 20.5px; font-family: &quot;Liberation Serif&quot;, serif; font-weight: 400; color: rgb(17, 17, 17);">bond</span><span style="left: 140.98px; top: 468.27px; font-size: 20.5px; font-family: &quot;Liberation Serif&quot;, serif; font-weight: 400; color: rgb(17, 17, 17);">is</span><span style="left: 162.16px; top: 468.27px; font-size: 20.5px; font-family: &quot;Liberation Serif&quot;, serif; font-weight: 400; color: rgb(17, 17, 17);">quoted</span><span style="left: 225.45px; top: 468.27px; font-size: 20.5px; font-family: &quot;Liberation Serif&quot;, serif; font-weight: 400; color: rgb(17, 17, 17);">at</span><span style="left: 247.75px; top: 468.27px; font-size: 20.5px; font-family: &quot;Liberation Serif&quot;, serif; font-weight: 400; color: rgb(17, 17, 17);">€108</span><span style="left: 296.25px; top: 468.27px; font-size: 20.5px; font-family: &quot;Liberation Serif&quot;, serif; font-weight: 400; color: rgb(17, 17, 17);">and</span><span style="left: 333.34px; top: 468.27px; font-size: 20.5px; font-family: &quot;Liberation Serif&quot;, serif; font-weight: 400; color: rgb(17, 17, 17);">has</span><span style="left: 368.17px; top: 468.27px; font-size: 20.5px; font-family: &quot;Liberation Serif&quot;, serif; font-weight: 400; color: rgb(17, 17, 17);">accrued</span><span style="left: 439.39px; top: 468.27px; font-size: 20.5px; font-family: &quot;Liberation Serif&quot;, serif; font-weight: 400; color: rgb(17, 17, 17);">interest</span><span style="left: 507.23px; top: 468.27px; font-size: 20.5px; font-family: &quot;Liberation Serif&quot;, serif; font-weight: 400; color: rgb(17, 17, 17);">of</span><span style="left: 531.81px; top: 468.27px; font-size: 20.5px; font-family: &quot;Liberation Serif&quot;, serif; font-weight: 400; color: rgb(17, 17, 17);">€0.083</span><span style="left: 595.69px; top: 468.27px; font-size: 20.5px; font-family: &quot;Liberation Serif&quot;, serif; font-weight: 400; color: rgb(17, 17, 17);">(one-half</span><span style="left: 678.31px; top: 468.27px; font-size: 20.5px; font-family: &quot;Liberation Serif&quot;, serif; font-weight: 400; color: rgb(17, 17, 17);">of</span><span style="left: 702.88px; top: 468.27px; font-size: 20.5px; font-family: &quot;Liberation Serif&quot;, serif; font-weight: 400; color: rgb(17, 17, 17);">a</span><span style="left: 719.48px; top: 468.27px; font-size: 20.5px; font-family: &quot;Liberation Serif&quot;, serif; font-weight: 400; color: rgb(17, 17, 17);">month</span><span style="left: 779.38px; top: 468.27px; font-size: 20.5px; font-family: &quot;Liberation Serif&quot;, serif; font-weight: 400; color: rgb(17, 17, 17);">since</span><span style="left: 828.98px; top: 468.27px; font-size: 20.5px; font-family: &quot;Liberation Serif&quot;, serif; font-weight: 400; color: rgb(17, 17, 17);">last</span><span style="left: 864.95px; top: 468.27px; font-size: 20.5px; font-family: &quot;Liberation Serif&quot;, serif; font-weight: 400; color: rgb(17, 17, 17);">coupon</span><span style="left: 932.81px; top: 468.27px; font-size: 20.5px; font-family: &quot;Liberation Serif&quot;, serif; font-weight: 400; color: rgb(17, 17, 17);">which</span><span style="left: 990.41px; top: 468.27px; font-size: 20.5px; font-family: &quot;Liberation Serif&quot;, serif; font-weight: 400; color: rgb(17, 17, 17);">pays</span></div>
<div class="fzo"><span style="left: 92.5px; top: 498.68px; font-size: 20.5px; font-family: &quot;Liberation Serif&quot;, serif; font-weight: 400; color: rgb(17, 17, 17);">annually).</span><span style="left: 180.39px; top: 498.68px; font-size: 20.5px; font-family: &quot;Liberation Serif&quot;, serif; font-weight: 400; color: rgb(17, 17, 17);">The</span><span style="left: 217.98px; top: 498.68px; font-size: 20.5px; font-family: &quot;Liberation Serif&quot;, serif; font-weight: 400; color: rgb(17, 17, 17);">euro-bond</span><span style="left: 307.97px; top: 498.68px; font-size: 20.5px; font-family: &quot;Liberation Serif&quot;, serif; font-weight: 400; color: rgb(17, 17, 17);">futures</span><span style="left: 370.63px; top: 498.68px; font-size: 20.5px; font-family: &quot;Liberation Serif&quot;, serif; font-weight: 400; color: rgb(17, 17, 17);">contract</span><span style="left: 442.38px; top: 498.68px; font-size: 20.5px; font-family: &quot;Liberation Serif&quot;, serif; font-weight: 400; color: rgb(17, 17, 17);">matures</span><span style="left: 513px; top: 498.68px; font-size: 20.5px; font-family: &quot;Liberation Serif&quot;, serif; font-weight: 400; color: rgb(17, 17, 17);">in</span><span style="left: 534.67px; top: 498.68px; font-size: 20.5px; font-family: &quot;Liberation Serif&quot;, serif; font-weight: 400; color: rgb(17, 17, 17);">one</span><span style="left: 570px; top: 498.68px; font-size: 20.5px; font-family: &quot;Liberation Serif&quot;, serif; font-weight: 400; color: rgb(17, 17, 17);">month.</span><span style="left: 632.11px; top: 498.68px; font-size: 20.5px; font-family: &quot;Liberation Serif&quot;, serif; font-weight: 400; color: rgb(17, 17, 17);">At</span><span style="left: 658.34px; top: 498.68px; font-size: 20.5px; font-family: &quot;Liberation Serif&quot;, serif; font-weight: 400; color: rgb(17, 17, 17);">contract</span><span style="left: 730.08px; top: 498.68px; font-size: 20.5px; font-family: &quot;Liberation Serif&quot;, serif; font-weight: 400; color: rgb(17, 17, 17);">expiration,</span><span style="left: 824.05px; top: 498.68px; font-size: 20.5px; font-family: &quot;Liberation Serif&quot;, serif; font-weight: 400; color: rgb(17, 17, 17);">the</span><span style="left: 854.83px; top: 498.68px; font-size: 20.5px; font-family: &quot;Liberation Serif&quot;, serif; font-weight: 400; color: rgb(17, 17, 17);">underlying</span><span style="left: 949.38px; top: 498.68px; font-size: 20.5px; font-family: &quot;Liberation Serif&quot;, serif; font-weight: 400; color: rgb(17, 17, 17);">bond</span><span style="left: 996.09px; top: 498.68px; font-size: 20.5px; font-family: &quot;Liberation Serif&quot;, serif; font-weight: 400; color: rgb(17, 17, 17);">will</span></div>
<div class="fzo"><div style="position: absolute; left: 431.31px; top: 549px; width: 524.98px; height: 1px; background: rgb(85, 85, 85);"></div><span style="left: 92.5px; top: 529.68px; font-size: 20.5px; font-family: &quot;Liberation Serif&quot;, serif; font-weight: 400; color: rgb(17, 17, 17);">have</span><span style="left: 137.16px; top: 529.68px; font-size: 20.5px; font-family: &quot;Liberation Serif&quot;, serif; font-weight: 400; color: rgb(17, 17, 17);">accrued</span><span style="left: 206.83px; top: 529.68px; font-size: 20.5px; font-family: &quot;Liberation Serif&quot;, serif; font-weight: 400; color: rgb(17, 17, 17);">interest</span><span style="left: 273.13px; top: 529.68px; font-size: 20.5px; font-family: &quot;Liberation Serif&quot;, serif; font-weight: 400; color: rgb(17, 17, 17);">of</span><span style="left: 296.17px; top: 529.68px; font-size: 20.5px; font-family: &quot;Liberation Serif&quot;, serif; font-weight: 400; color: rgb(17, 17, 17);">€0.25,</span><span style="left: 353.38px; top: 529.68px; font-size: 20.5px; font-family: &quot;Liberation Serif&quot;, serif; font-weight: 400; color: rgb(17, 17, 17);">there</span><span style="left: 400.31px; top: 529.68px; font-size: 20.5px; font-family: &quot;Liberation Serif&quot;, serif; font-weight: 400; color: rgb(17, 17, 17);">are</span><span style="left: 431.31px; top: 529.68px; font-size: 20.5px; font-family: &quot;Liberation Serif&quot;, serif; font-weight: 400; color: rgb(17, 17, 17);">no</span><span style="left: 457.77px; top: 529.68px; font-size: 20.5px; font-family: &quot;Liberation Serif&quot;, serif; font-weight: 400; color: rgb(17, 17, 17);">coupon</span><span style="left: 524.08px; top: 529.68px; font-size: 20.5px; font-family: &quot;Liberation Serif&quot;, serif; font-weight: 400; color: rgb(17, 17, 17);">payments</span><span style="left: 608.59px; top: 529.68px; font-size: 20.5px; font-family: &quot;Liberation Serif&quot;, serif; font-weight: 400; color: rgb(17, 17, 17);">due</span><span style="left: 644.16px; top: 529.68px; font-size: 20.5px; font-family: &quot;Liberation Serif&quot;, serif; font-weight: 400; color: rgb(17, 17, 17);">until</span><span style="left: 687.7px; top: 529.68px; font-size: 20.5px; font-family: &quot;Liberation Serif&quot;, serif; font-weight: 400; color: rgb(17, 17, 17);">after</span><span style="left: 731.22px; top: 529.68px; font-size: 20.5px; font-family: &quot;Liberation Serif&quot;, serif; font-weight: 400; color: rgb(17, 17, 17);">the</span><span style="left: 762.22px; top: 529.68px; font-size: 20.5px; font-family: &quot;Liberation Serif&quot;, serif; font-weight: 400; color: rgb(17, 17, 17);">futures</span><span style="left: 825.11px; top: 529.68px; font-size: 20.5px; font-family: &quot;Liberation Serif&quot;, serif; font-weight: 400; color: rgb(17, 17, 17);">contract</span><span style="left: 897.08px; top: 529.68px; font-size: 20.5px; font-family: &quot;Liberation Serif&quot;, serif; font-weight: 400; color: rgb(17, 17, 17);">expires</span><span style="left: 956.3px; top: 529.68px; font-size: 20.5px; font-family: &quot;Liberation Serif&quot;, serif; font-weight: 400; color: rgb(17, 17, 17);">,</span><span style="left: 967.38px; top: 529.68px; font-size: 20.5px; font-family: &quot;Liberation Serif&quot;, serif; font-weight: 400; color: rgb(17, 17, 17);">and</span><span style="left: 1002.94px; top: 529.68px; font-size: 20.5px; font-family: &quot;Liberation Serif&quot;, serif; font-weight: 400; color: rgb(17, 17, 17);">the</span></div>
<div class="fzo"><span style="left: 92.5px; top: 559.68px; font-size: 20.5px; font-family: &quot;Liberation Serif&quot;, serif; font-weight: 400; color: rgb(17, 17, 17);">current</span><span style="left: 157.23px; top: 559.68px; font-size: 20.5px; font-family: &quot;Liberation Serif&quot;, serif; font-weight: 400; color: rgb(17, 17, 17);">one-month</span><span style="left: 252.75px; top: 559.68px; font-size: 20.5px; font-family: &quot;Liberation Serif&quot;, serif; font-weight: 400; color: rgb(17, 17, 17);">risk-free</span><span style="left: 328.88px; top: 559.68px; font-size: 20.5px; font-family: &quot;Liberation Serif&quot;, serif; font-weight: 400; color: rgb(17, 17, 17);">rate</span><span style="left: 366.28px; top: 559.68px; font-size: 20.5px; font-family: &quot;Liberation Serif&quot;, serif; font-weight: 400; color: rgb(17, 17, 17);">is</span><span style="left: 386.66px; top: 559.68px; font-size: 20.5px; font-family: &quot;Liberation Serif&quot;, serif; font-weight: 400; color: rgb(17, 17, 17);">0.1%.</span><span style="left: 440.81px; top: 559.68px; font-size: 20.5px; font-family: &quot;Liberation Serif&quot;, serif; font-weight: 400; color: rgb(17, 17, 17);">The</span><span style="left: 479.38px; top: 559.68px; font-size: 20.5px; font-family: &quot;Liberation Serif&quot;, serif; font-weight: 400; color: rgb(17, 17, 17);">conversion</span><span style="left: 576.02px; top: 559.68px; font-size: 20.5px; font-family: &quot;Liberation Serif&quot;, serif; font-weight: 400; color: rgb(17, 17, 17);">factor</span><span style="left: 630.5px; top: 559.68px; font-size: 20.5px; font-family: &quot;Liberation Serif&quot;, serif; font-weight: 400; color: rgb(17, 17, 17);">is</span><span style="left: 650.88px; top: 559.68px; font-size: 20.5px; font-family: &quot;Liberation Serif&quot;, serif; font-weight: 400; color: rgb(17, 17, 17);">0.729535.</span><span style="left: 739.2px; top: 559.68px; font-size: 20.5px; font-family: &quot;Liberation Serif&quot;, serif; font-weight: 400; color: rgb(17, 17, 17);">The</span><span style="left: 777.77px; top: 559.68px; font-size: 20.5px; font-family: &quot;Liberation Serif&quot;, serif; font-weight: 400; color: rgb(17, 17, 17);">equilibrium</span><span style="left: 880.11px; top: 559.68px; font-size: 20.5px; font-family: &quot;Liberation Serif&quot;, serif; font-weight: 400; color: rgb(17, 17, 17);">euro-bond</span><span style="left: 971.06px; top: 559.68px; font-size: 20.5px; font-family: &quot;Liberation Serif&quot;, serif; font-weight: 400; color: rgb(17, 17, 17);">futures</span></div>
<div class="fzo"><span style="left: 92.5px; top: 589.38px; font-size: 20.5px; font-family: &quot;Liberation Serif&quot;, serif; font-weight: 400; color: rgb(17, 17, 17);">price</span><span style="left: 138.59px; top: 589.38px; font-size: 20.5px; font-family: &quot;Liberation Serif&quot;, serif; font-weight: 400; color: rgb(17, 17, 17);">based</span><span style="left: 190.39px; top: 589.38px; font-size: 20.5px; font-family: &quot;Liberation Serif&quot;, serif; font-weight: 400; color: rgb(17, 17, 17);">on</span><span style="left: 216.02px; top: 589.38px; font-size: 20.5px; font-family: &quot;Liberation Serif&quot;, serif; font-weight: 400; color: rgb(17, 17, 17);">the</span><span style="left: 246.19px; top: 589.38px; font-size: 20.5px; font-family: &quot;Liberation Serif&quot;, serif; font-weight: 400; color: rgb(17, 17, 17);">carry</span><span style="left: 293.41px; top: 589.38px; font-size: 20.5px; font-family: &quot;Liberation Serif&quot;, serif; font-weight: 400; color: rgb(17, 17, 17);">arbitrage</span><span style="left: 371.38px; top: 589.38px; font-size: 20.5px; font-family: &quot;Liberation Serif&quot;, serif; font-weight: 400; color: rgb(17, 17, 17);">model</span><span style="left: 427.73px; top: 589.38px; font-size: 20.5px; font-family: &quot;Liberation Serif&quot;, serif; font-weight: 400; color: rgb(17, 17, 17);">will</span><span style="left: 464.75px; top: 589.38px; font-size: 20.5px; font-family: &quot;Liberation Serif&quot;, serif; font-weight: 400; color: rgb(17, 17, 17);">be</span><span style="left: 489.23px; top: 589.38px; font-size: 20.5px; font-family: &quot;Liberation Serif&quot;, serif; font-weight: 400; color: rgb(17, 17, 17);">closest</span><span style="left: 550.16px; top: 589.38px; font-size: 20.5px; font-family: &quot;Liberation Serif&quot;, serif; font-weight: 400; color: rgb(17, 17, 17);">to?</span></div>
<div class="fzo"><span style="left: 92.5px; top: 620.68px; font-size: 20.5px; font-family: &quot;Liberation Serif&quot;, serif; font-weight: 700; color: rgb(17, 17, 17);">Correct</span><span style="left: 164.39px; top: 620.68px; font-size: 20.5px; font-family: &quot;Liberation Serif&quot;, serif; font-weight: 700; color: rgb(17, 17, 17);">Answer:</span></div>
<svg style="position:absolute;left:0;top:0" width="1125" height="831"><path d="M53.8,409.5 L64.8,416.2 L53.8,423.1 L57,416.2 Z" fill="none" stroke="#111" stroke-width="1" stroke-linejoin="miter"></path><path d="M57,416.2 L65.3,416.2 L53.4,423.7 Z" fill="#111"></path><path d="M53.8,623.5 L64.8,630.2 L53.8,637.1 L57,630.2 Z" fill="none" stroke="#111" stroke-width="1" stroke-linejoin="miter"></path><path d="M57,630.2 L65.3,630.2 L53.4,637.7 Z" fill="#111"></path><circle cx="100.2" cy="784.2" r="6" fill="#111"></circle></svg>
<span class="t " style="left:252.96px;top:665.59px;font-size:21px;transform:scale(0.9378,1.0351);">QFP</span>
<span class="t " style="left:289.14px;top:661.37px;font-size:15.5px;transform:scale(1.1645,0.9418);">clean</span>
<span class="t " style="left:286.80px;top:683.66px;font-size:14px;transform:scale(1.0143,0.7643);color:#444;font-family:" liberation="" sans",sans-serif;"="">标准</span>
<span class="t " style="left:333.50px;top:667.48px;font-size:21px;transform:scale(1.3000,1.0600);">=</span>
<span class="t " style="left:355.64px;top:660.83px;font-size:21px;transform:scale(0.9600,1.3889);">[</span>
<span class="t " style="left:361.78px;top:660.83px;font-size:21px;transform:scale(1.4200,1.3889);">(</span>
<span class="t " style="left:371.12px;top:665.59px;font-size:21px;transform:scale(0.9800,1.0351);">S</span>
<span class="t " style="left:383.90px;top:675.00px;font-size:15.5px;transform:scale(0.9429,1.0000);">0</span>
<span class="t " style="left:382.58px;top:662.67px;font-size:15.5px;transform:scale(1.1161,0.9418);">clean</span>
<span class="t " style="left:425.05px;top:664.20px;font-size:21px;transform:scale(1.2500,1.3600);">+</span>
<span class="t " style="left:444.90px;top:665.59px;font-size:21px;transform:scale(0.8905,1.0351);">AI</span>
<span class="t " style="left:465.60px;top:675.00px;font-size:15.5px;transform:scale(0.9429,1.0000);">0</span>
<span class="t " style="left:473.32px;top:660.92px;font-size:21px;transform:scale(1.3800,1.3944);">)</span>
<span class="t " style="left:486.72px;top:663.88px;font-size:21px;transform:scale(1.3375,1.3875);">×</span>
<span class="t " style="left:507.60px;top:664.82px;font-size:21px;transform:scale(1.2000,1.0611);">(</span>
<span class="t " style="left:514.97px;top:666.28px;font-size:21px;transform:scale(1.1143,1.0077);">1</span>
<span class="t " style="left:530.67px;top:664.20px;font-size:21px;transform:scale(1.3300,1.3600);">+</span>
<span class="t " style="left:552.05px;top:666.68px;font-size:21px;transform:scale(0.8538,0.9734);">R</span>
<span class="t " style="left:564.50px;top:674.48px;font-size:13px;transform:scale(1.5000,1.2111);">f</span>
<span class="t " style="left:574.80px;top:664.82px;font-size:21px;transform:scale(1.2000,1.0611);">)</span>
<span class="t " style="left:584.90px;top:662.80px;font-size:15.5px;transform:scale(0.9333,1.0000);">T</span>
<span class="t " style="left:599.15px;top:660.90px;font-size:21px;transform:scale(1.2500,1.6000);">−</span>
<span class="t " style="left:619.46px;top:666.68px;font-size:21px;transform:scale(0.8410,0.9734);">FVC</span>
<span class="t " style="left:659.46px;top:660.90px;font-size:21px;transform:scale(1.1400,1.6000);">−</span>
<span class="t " style="left:678.80px;top:666.68px;font-size:21px;transform:scale(0.8952,0.9734);">AI</span>
<span class="t " style="left:698.40px;top:675.30px;font-size:15.5px;transform:scale(0.9222,0.9000);">T</span>
<span class="t " style="left:707.94px;top:660.05px;font-size:21px;transform:scale(1.0600,1.4500);">]</span>
<span class="t " style="left:718.95px;top:662.60px;font-size:21px;transform:scale(1.4250,1.5000);">×</span>
<span class="t " style="left:750.01px;top:653.73px;font-size:21px;transform:scale(1.1429,0.7571);">1</span>
<span class="t " style="left:739.85px;top:683.08px;font-size:21px;transform:scale(0.8500,0.8071);">CF</span>
<span class="t " style="left:759.97px;top:690.48px;font-size:15.5px;transform:scale(1.1300,0.8400);">A</span>
<span class="t " style="left:333.51px;top:729.30px;font-size:21px;transform:scale(1.2900,1.2000);">=</span>
<span class="t " style="left:354.94px;top:723.52px;font-size:21px;transform:scale(1.0600,1.4278);">[</span>
<span class="t " style="left:362.14px;top:729.38px;font-size:21px;transform:scale(1.3600,1.0056);">(</span>
<span class="t " style="left:369.61px;top:729.94px;font-size:21px;transform:scale(1.0966,0.9529);">108</span>
<span class="t " style="left:408.82px;top:727.10px;font-size:21px;transform:scale(1.2800,1.3600);">+</span>
<span class="t " style="left:428.25px;top:729.94px;font-size:21px;transform:scale(1.0500,0.9529);">0.083</span>
<span class="t " style="left:477.74px;top:729.38px;font-size:21px;transform:scale(1.3600,1.0056);">)</span>
<span class="t " style="left:491.10px;top:726.50px;font-size:21px;transform:scale(1.4000,1.4000);">×</span>
<span class="t " style="left:512.04px;top:729.38px;font-size:21px;transform:scale(1.2600,1.0056);">(</span>
<span class="t " style="left:519.01px;top:729.94px;font-size:21px;transform:scale(1.1429,0.9529);">1</span>
<span class="t " style="left:536.14px;top:727.10px;font-size:21px;transform:scale(1.1600,1.3600);">+</span>
<span class="t " style="left:556.38px;top:729.94px;font-size:21px;transform:scale(1.0238,0.9529);">0.1%</span>
<span class="t " style="left:604.38px;top:729.38px;font-size:21px;transform:scale(1.4200,1.0056);">)</span>
<span class="t " style="left:612.21px;top:726.50px;font-size:15.5px;transform:scale(1.2440,1.0000);">1/12</span>
<span class="t " style="left:652.29px;top:724.10px;font-size:21px;transform:scale(1.2100,1.6000);">−</span>
<span class="t " style="left:672.44px;top:729.94px;font-size:21px;transform:scale(0.9556,0.9529);">0</span>
<span class="t " style="left:688.59px;top:724.10px;font-size:21px;transform:scale(1.2100,1.6000);">−</span>
<span class="t " style="left:708.39px;top:730.18px;font-size:21px;transform:scale(1.0057,0.9392);">0.25</span>
<span class="t " style="left:746.06px;top:724.25px;font-size:21px;transform:scale(0.9400,1.3833);">]</span>
<span class="t " style="left:757.53px;top:726.50px;font-size:21px;transform:scale(1.3375,1.4000);">×</span>
<span class="t " style="left:813.29px;top:714.81px;font-size:21px;transform:scale(1.1571,0.9286);">1</span>
<span class="t " style="left:777.74px;top:743.30px;font-size:21px;transform:scale(1.0597,1.0000);">0.729535</span>
<span class="t " style="left:868.08px;top:729.64px;font-size:21px;transform:scale(1.2200,1.1800);">=</span>
<span class="t " style="left:887.78px;top:729.84px;font-size:21px;transform:scale(1.0600,0.9857);">147.82</span>
<div style="position:absolute;left:740px;top:675.8px;width:33.2px;height:1.7px;background:#222;"></div>
<div style="position:absolute;left:778.1px;top:739.5px;width:83.6px;height:1.8px;background:#222;"></div>
<div class="fzo"><span style="left: 133.5px; top: 773.88px; font-size: 20.5px; font-family: &quot;Liberation Serif&quot;, serif; font-weight: 400; color: rgb(17, 17, 17);">In</span><span style="left: 157.94px; top: 773.88px; font-size: 20.5px; font-family: &quot;Liberation Serif&quot;, serif; font-weight: 400; color: rgb(17, 17, 17);">equilibrium,</span><span style="left: 266.09px; top: 773.88px; font-size: 20.5px; font-family: &quot;Liberation Serif&quot;, serif; font-weight: 400; color: rgb(17, 17, 17);">the</span><span style="left: 298.52px; top: 773.88px; font-size: 20.5px; font-family: &quot;Liberation Serif&quot;, serif; font-weight: 400; color: rgb(17, 17, 17);">euro-bond</span><span style="left: 390.14px; top: 773.88px; font-size: 20.5px; font-family: &quot;Liberation Serif&quot;, serif; font-weight: 400; color: rgb(17, 17, 17);">futures</span><span style="left: 454.44px; top: 773.88px; font-size: 20.5px; font-family: &quot;Liberation Serif&quot;, serif; font-weight: 400; color: rgb(17, 17, 17);">price</span><span style="left: 502.78px; top: 773.88px; font-size: 20.5px; font-family: &quot;Liberation Serif&quot;, serif; font-weight: 400; color: rgb(17, 17, 17);">should</span><span style="left: 564.83px; top: 773.88px; font-size: 20.5px; font-family: &quot;Liberation Serif&quot;, serif; font-weight: 400; color: rgb(17, 17, 17);">be</span><span style="left: 591.55px; top: 773.88px; font-size: 20.5px; font-family: &quot;Liberation Serif&quot;, serif; font-weight: 400; color: rgb(17, 17, 17);">approximately</span><span style="left: 717.33px; top: 773.88px; font-size: 20.5px; font-family: &quot;Liberation Serif&quot;, serif; font-weight: 400; color: rgb(17, 17, 17);">€147.82</span><span style="left: 791.33px; top: 773.88px; font-size: 20.5px; font-family: &quot;Liberation Serif&quot;, serif; font-weight: 400; color: rgb(17, 17, 17);">based</span><span style="left: 845.38px; top: 773.88px; font-size: 20.5px; font-family: &quot;Liberation Serif&quot;, serif; font-weight: 400; color: rgb(17, 17, 17);">on</span><span style="left: 873.25px; top: 773.88px; font-size: 20.5px; font-family: &quot;Liberation Serif&quot;, serif; font-weight: 400; color: rgb(17, 17, 17);">the</span><span style="left: 905.67px; top: 773.88px; font-size: 20.5px; font-family: &quot;Liberation Serif&quot;, serif; font-weight: 400; color: rgb(17, 17, 17);">carry</span><span style="left: 955.14px; top: 773.88px; font-size: 20.5px; font-family: &quot;Liberation Serif&quot;, serif; font-weight: 400; color: rgb(17, 17, 17);">arbitrage</span></div>
<div class="fzo"><span style="left: 133.5px; top: 804.27px; font-size: 20.5px; font-family: &quot;Liberation Serif&quot;, serif; font-weight: 400; color: rgb(17, 17, 17);">model.</span></div>


</body></html>
